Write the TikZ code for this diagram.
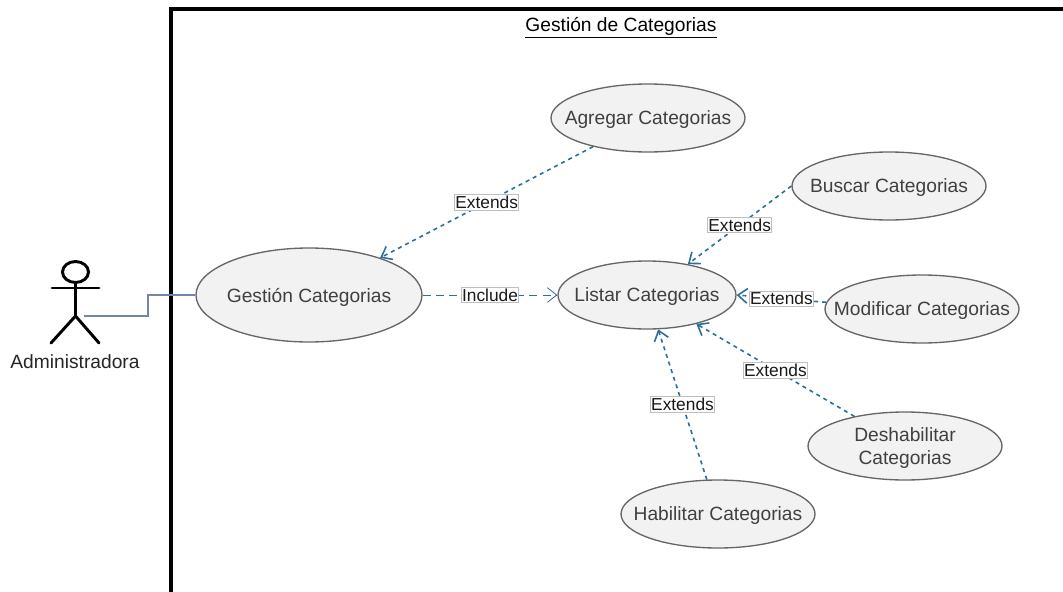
\documentclass[tikz,border=0pt]{standalone}
\usepackage{fontspec}
\setmainfont{Liberation Sans}
\usepackage{xcolor}
\usetikzlibrary{arrows.meta, shapes.geometric}
\definecolor{extblue}{HTML}{2A6F9E}
\definecolor{linkblue}{HTML}{6F88AB}
\definecolor{casetext}{HTML}{404040}
\tikzset{
	usecase/.style={draw=black!60, line width=1pt, fill=black!5, ellipse, inner sep=-18pt, text depth=0pt, minimum width=145.5pt, minimum height=51pt, align=center, text=casetext, font=\fontsize{14.4}{17.5}\selectfont},
	rellabel/.style={solid, draw=black!25, line width=0.5pt, fill=white, inner xsep=0.4pt, inner ysep=1pt, text=black!90, font=\fontsize{13}{15}\selectfont},
	extends/.style={draw=extblue, line width=1.2pt, dashed, -{Straight Barb[length=7pt,width=11pt]}},
	actorline/.style={line width=2.2pt, line cap=round}
}
\begin{document}
\begin{tikzpicture}[x=0.75pt, y=-0.75pt]
	\useasboundingbox (0,0) rectangle (1063,592);
	\draw (648,118) node[usecase] (agregar) {Agregar Categorias}
	(889,186) node[usecase] (buscar) {Buscar Categorias}
	(309,295) node[usecase, minimum width=169.5pt, minimum height=70.5pt] (gestion) {Gestión Categorias}
	(647,295) node[usecase, minimum width=133.5pt] (listar) {Listar Categorias}
	(922,309) node[usecase] (modificar) {Modificar Categorias}
	(905,446) node[usecase] (deshabilitar) {Deshabilitar\\Categorias}
	(718,514) node[usecase] (habilitar) {Habilitar Categorias}
	(621,28) node[font=\fontsize{14.4}{17}\selectfont] (titulo) {\underline{Gestión de Categorias}}
	(75,362) node[font=\fontsize{14.4}{17}\selectfont, text=black!85] (admin) {Administradora};

	% sistema
	\draw[line width=2.6pt] (1075,9) -- (171,9) -- (171,600);

	% actor
	\coordinate (cadera) at (75.5,316);
	\coordinate (mano) at (84,316);
	\draw[actorline] (75.5,272) ellipse (13 and 10.5);
	\draw[actorline] (75.5,282.5) -- (cadera);
	\draw[actorline] (52,288) -- (99,288);
	\draw[actorline] (51,343) -- (cadera) -- (99,343);

	\draw[linkblue, line width=1.5pt] (mano) -- ++(64,0) |- (gestion.west);

	\draw[extends] (agregar) -- node[rellabel, midway] (lb1) {Extends} (gestion);
	\draw[extends] (buscar.west) -- node[rellabel, midway] (lb2) {Extends} (listar);
	\draw[extends] (modificar.176) -- node[rellabel, midway] (lb3) {Extends} (listar.east);
	\draw[extends] (deshabilitar) -- node[rellabel, midway] (lb4) {Extends} (listar);
	\draw[extends] (habilitar) -- node[rellabel, midway] (lb5) {Extends} (listar);
	\draw[extends, line width=0.6pt, dash pattern=on 6pt off 4pt] (gestion) -- node[rellabel, midway] (lb6) {Include} (listar);
\end{tikzpicture}
\end{document}
